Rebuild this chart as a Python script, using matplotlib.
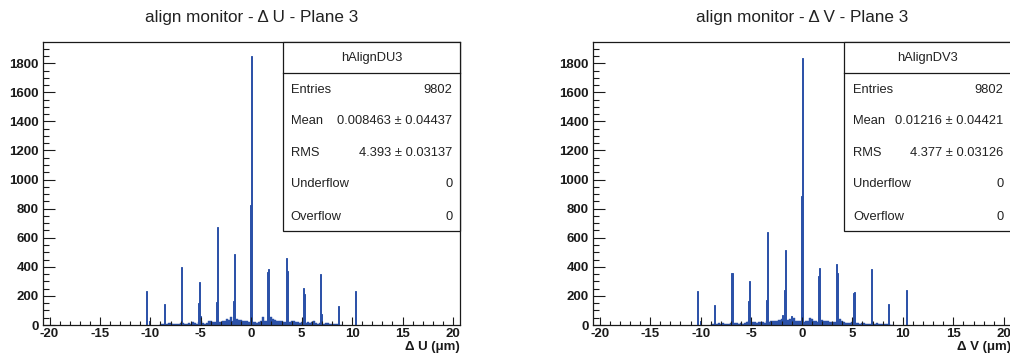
import numpy as np
import matplotlib
matplotlib.use("Agg")
import matplotlib.pyplot as plt
from matplotlib.patches import Rectangle
from matplotlib.ticker import MultipleLocator

plt.rcParams["font.family"] = ["Liberation Sans", "DejaVu Sans"]
plt.rcParams["axes.unicode_minus"] = False

# main peaks (bin centre in um, entries)
du_x = [-10.35, -10.05, -8.6, -6.9, -5.25, -5.15, -5.05, -3.45, -3.35, -1.75, -1.65,
        -0.05, 0.05, 1.65, 1.75, 3.45, 3.55, 5.15, 5.25, 6.85, 6.95, 8.65, 10.35]
du_n = [236, 28, 142, 401, 149, 298, 60, 160, 672, 165, 488,
        828, 1853, 365, 385, 459, 374, 255, 211, 351, 73, 128, 234]

dv_x = [-10.35, -10.05, -8.6, -6.9, -5.25, -5.15, -3.45, -3.35, -1.95, -1.75, -1.65,
        -1.05, -0.05, 0.05, 1.65, 1.75, 3.45, 3.55, 5.15, 5.25, 6.9, 8.6, 10.35]
dv_n = [235, 25, 140, 360, 165, 300, 175, 640, 70, 240, 515,
        65, 890, 1834, 334, 395, 420, 361, 220, 225, 385, 145, 238]

# low background, 0.2 um bins starting at -9.0
BG_START = -9.0
BG_STEP = 0.2
du_bg = [3, 5, 2, 8, 15, 12, 10, 8, 6, 10,
         15, 12, 10, 8, 12, 10, 18, 12, 10, 20,
         25, 15, 10, 14, 28, 25, 20, 18, 20, 18,
         22, 25, 30, 42, 35, 55, 30, 28, 40, 35,
         32, 28, 25, 25, 22, 20, 20, 18, 15, 22,
         25, 55, 28, 25, 30, 55, 40, 32, 30, 28,
         25, 22, 20, 18, 22, 28, 30, 22, 18, 15,
         18, 15, 12, 22, 15, 20, 25, 15, 10, 12,
         10, 8, 15, 12, 8, 10, 6, 5, 4, 3,
         2]
dv_bg = [2, 4, 5, 10, 15, 8, 12, 6, 10, 8,
         12, 10, 12, 15, 10, 12, 8, 15, 18, 25,
         22, 18, 20, 15, 18, 20, 22, 15, 25, 20,
         28, 25, 30, 28, 32, 40, 35, 30, 35, 40,
         35, 45, 30, 28, 25, 20, 22, 25, 30, 45,
         42, 30, 25, 22, 25, 35, 28, 25, 28, 20,
         22, 18, 20, 25, 38, 25, 18, 15, 12, 15,
         18, 12, 15, 12, 10, 15, 12, 10, 8, 10,
         8, 10, 12, 8, 10, 6, 8, 5, 4, 3,
         2]

stats_u = [("Entries", "9802"), ("Mean", "0.008463 \u00b1 0.04437"),
           ("RMS", "4.393 \u00b1 0.03137"), ("Underflow", "0"), ("Overflow", "0")]
stats_v = [("Entries", "9802"), ("Mean", "0.01216 \u00b1 0.04421"),
           ("RMS", "4.377 \u00b1 0.03126"), ("Underflow", "0"), ("Overflow", "0")]

BLUE = "#2b51a8"
DARK = "#1a1a1a"


def draw_panel(ax, title, name, xlabel, sx, sn, bg, stats, box_left, text_left):
    bg_x = BG_START + BG_STEP * np.arange(len(bg))
    ax.bar(bg_x, bg, width=BG_STEP, color=BLUE, edgecolor=BLUE, linewidth=0.3)
    # spikes: thin bins, give them an outline so they stay ~2 px wide
    ax.bar(sx, sn, width=0.1, color=BLUE, edgecolor=BLUE, linewidth=0.7)

    ax.set_xlim(-20.65, 20.7)
    ax.set_ylim(0, 1946)
    ax.xaxis.set_major_locator(MultipleLocator(5))
    ax.xaxis.set_minor_locator(MultipleLocator(1))
    ax.yaxis.set_major_locator(MultipleLocator(200))
    ax.yaxis.set_minor_locator(MultipleLocator(50))
    ax.tick_params(which="both", direction="in", top=False, right=False,
                   color=DARK, width=0.8)
    ax.tick_params(axis="x", which="major", length=6, pad=2)
    ax.tick_params(axis="x", which="minor", length=3)
    ax.tick_params(axis="y", which="major", length=8.6, pad=3)
    ax.tick_params(axis="y", which="minor", length=4.3)
    for lab in ax.get_xticklabels() + ax.get_yticklabels():
        lab.set_fontweight("bold")
        lab.set_fontsize(9.5)
        lab.set_color(DARK)
    for sp in ax.spines.values():
        sp.set_linewidth(0.9)
        sp.set_color(DARK)

    ax.text(0.5, 1.085, title, transform=ax.transAxes, ha="center", va="center",
            fontsize=12.3, color="#222222")
    ax.text(1.0, -0.078, xlabel, transform=ax.transAxes, ha="right", va="center",
            fontsize=9.5, fontweight="bold", color=DARK, clip_on=False)

    # stats box
    ax.add_patch(Rectangle((box_left, 0.332), 1.0 - box_left, 0.668, transform=ax.transAxes,
                           facecolor="white", edgecolor=DARK, linewidth=0.9,
                           zorder=5, clip_on=False))
    ax.plot([box_left, 1.0], [0.890, 0.890], transform=ax.transAxes, color=DARK,
            linewidth=0.9, zorder=6, clip_on=False)
    ax.text((box_left + 1.0) / 2, 0.9445, name, transform=ax.transAxes, ha="center",
            va="center", fontsize=9.3, color="#222222", zorder=7)
    rows_y = [0.830, 0.721, 0.608, 0.498, 0.382]
    for (key, val), y in zip(stats, rows_y):
        ax.text(text_left, y, key, transform=ax.transAxes, ha="left", va="center",
                fontsize=9.3, color="#222222", zorder=7)
        ax.text(0.982, y, val, transform=ax.transAxes, ha="right", va="center",
                fontsize=9.3, color="#222222", zorder=7, clip_on=False)


fig = plt.figure(figsize=(10.1, 3.54), dpi=100)
W, H = 1010.0, 354.0
ax1 = fig.add_axes([43 / W, (H - 325) / H, 417 / W, 283 / H])
ax2 = fig.add_axes([593 / W, (H - 325) / H, 418 / W, 283 / H])

draw_panel(ax1, "align monitor - \u0394 U - Plane 3", "hAlignDU3", "\u0394 U (\u03bcm)",
           du_x, du_n, du_bg, stats_u, 0.575, 0.594)
draw_panel(ax2, "align monitor - \u0394 V - Plane 3", "hAlignDV3", "\u0394 V (\u03bcm)",
           dv_x, dv_n, dv_bg, stats_v, 0.600, 0.623)

fig.savefig("out.png", dpi=100)
